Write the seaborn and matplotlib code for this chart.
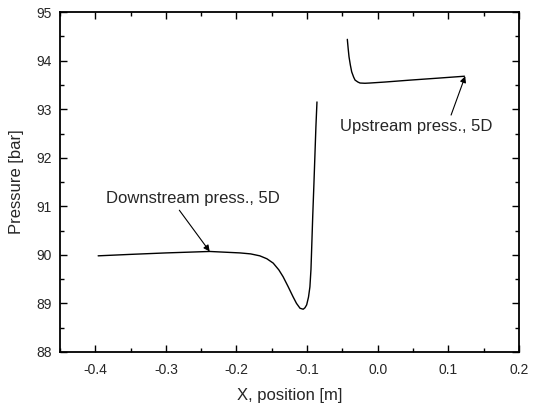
import matplotlib
matplotlib.use("Agg")
import matplotlib.pyplot as plt
import seaborn as sns
import pandas as pd
from matplotlib.ticker import MultipleLocator

# Data
down_x = [-0.396, -0.35, -0.30, -0.238, -0.195, -0.180, -0.167, -0.157, -0.148, -0.140,
          -0.134, -0.127, -0.120, -0.115, -0.110, -0.1055, -0.1030, -0.1006, -0.098,
          -0.096, -0.0945, -0.0936, -0.092, -0.0903, -0.0875, -0.086]
down_y = [89.98, 90.01, 90.04, 90.07, 90.04, 90.02, 89.98, 89.92, 89.83, 89.69,
          89.55, 89.35, 89.14, 89.00, 88.90, 88.88, 88.91, 88.97, 89.13,
          89.34, 89.70, 90.09, 90.80, 91.47, 92.64, 93.15]
up_x = [-0.043, -0.0418, -0.0406, -0.0387, -0.0368, -0.034, -0.032, -0.028, -0.025,
        -0.018, -0.011, 0.010, 0.046, 0.085, 0.123]
up_y = [94.44, 94.25, 94.08, 93.91, 93.77, 93.66, 93.60, 93.56, 93.54,
        93.535, 93.54, 93.56, 93.60, 93.64, 93.68]

labels = ["Downstream press., 5D", "Upstream press., 5D"]

sns.set_style("ticks")
plt.rcParams["font.family"] = ["Liberation Sans", "DejaVu Sans"]

fig = plt.figure(figsize=(5.36, 4.05), dpi=100)
ax = fig.add_axes([0.112, 0.131, 0.856, 0.839])

df_down = pd.DataFrame({"x": down_x, "y": down_y})
df_up = pd.DataFrame({"x": up_x, "y": up_y})
sns.lineplot(data=df_down, x="x", y="y", sort=False, color="black", lw=1.0, ax=ax)
sns.lineplot(data=df_up, x="x", y="y", sort=False, color="black", lw=1.0, ax=ax)

ax.set_xlim(-0.45, 0.2)
ax.set_ylim(88, 95)
ax.xaxis.set_minor_locator(MultipleLocator(0.05))
ax.yaxis.set_minor_locator(MultipleLocator(0.5))
ax.set_xticks([-0.4, -0.3, -0.2, -0.1, 0.0, 0.1, 0.2])
ax.set_xticklabels(["-0.4", "-0.3", "-0.2", "-0.1", "0.0", "0.1", "0.2"])
ax.set_yticks([88, 89, 90, 91, 92, 93, 94, 95])
ax.set_yticklabels([str(v) for v in [88, 89, 90, 91, 92, 93, 94, 95]])
ax.tick_params(which="both", direction="in", top=True, right=True, labelsize=10, width=1.0, color="black")
ax.tick_params(which="major", length=5)
ax.tick_params(which="minor", length=3)
ax.tick_params(axis="x", which="major", pad=8)
ax.tick_params(axis="y", which="major", pad=6)
for s in ax.spines.values():
    s.set_linewidth(1.3)
    s.set_color("black")

ax.set_xlabel("X, position [m]", fontsize=12, labelpad=8)
ax.set_ylabel("Pressure [bar]", fontsize=12, labelpad=9)

arrow = dict(arrowstyle="-|>", color="black", lw=0.8, mutation_scale=9, shrinkA=0, shrinkB=0)
ax.annotate("", xy=(-0.238, 90.07), xytext=(-0.281, 90.92), arrowprops=arrow)
ax.text(-0.262, 91.17, labels[0], fontsize=12, ha="center", va="center")
ax.annotate("", xy=(0.124, 93.68), xytext=(0.104, 92.88), arrowprops=arrow)
ax.text(0.054, 92.64, labels[1], fontsize=12, ha="center", va="center")

fig.savefig("out.png", dpi=100)
